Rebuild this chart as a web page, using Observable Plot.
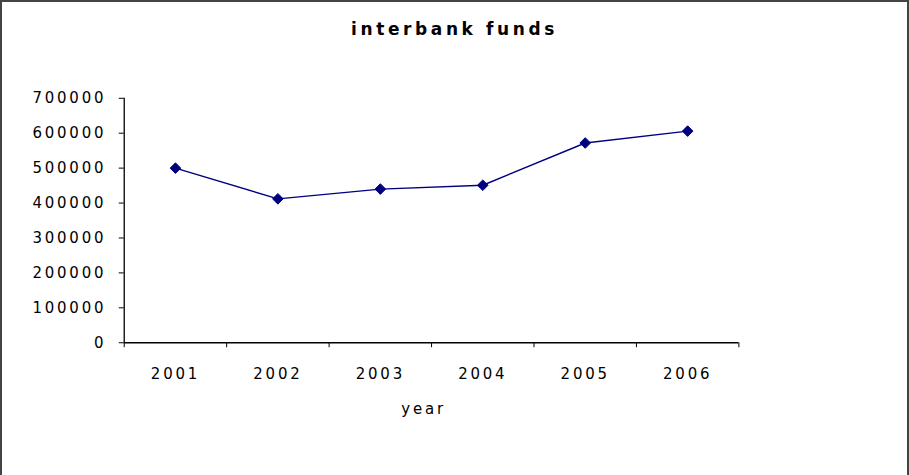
<!DOCTYPE html>
<html>
<head>
<meta charset="utf-8">
<script src="https://cdn.jsdelivr.net/npm/d3@7"></script>
<script src="https://cdn.jsdelivr.net/npm/@observablehq/plot@0.6"></script>
<style>
  html, body { margin: 0; padding: 0; background: #fff; }
  #chart { position: relative; width: 909px; height: 475px; box-sizing: border-box;
           border-top: 2px solid #444; border-left: 2px solid #444; border-right: 2px solid #444; }
  #title { position: absolute; left: 0; width: 905px; top: 17px; text-align: center;
           font-family: "DejaVu Sans", sans-serif; font-weight: bold; font-size: 17px;
           letter-spacing: 3.6px; color: #000; }
  #plot { position: absolute; left: -2px; top: -2px; }
  #plot svg text { letter-spacing: 2.8px; }
</style>
</head>
<body>
<div id="chart">
  <div id="title">interbank funds</div>
  <div id="plot"></div>
</div>
<script>
const years = [2001, 2002, 2003, 2004, 2005, 2006];
const funds = [500000, 412000, 440000, 451000, 572000, 606000];
const yTicks = [0, 100000, 200000, 300000, 400000, 500000, 600000, 700000];
const xBoundaries = [2000.5, 2001.5, 2002.5, 2003.5, 2004.5, 2005.5, 2006.5];
const xLabel = "year";

const data = years.map((y, i) => ({year: y, value: funds[i]}));
const navy = "#000080";

const chart = Plot.plot({
  width: 909,
  height: 475,
  marginLeft: 124,
  marginRight: 169,
  marginTop: 98,
  marginBottom: 132,
  style: {fontFamily: "'DejaVu Sans', sans-serif", fontSize: "15px", color: "#000", background: "transparent"},
  x: {type: "linear", domain: [2000.5, 2006.5]},
  y: {type: "linear", domain: [0, 700000]},
  marks: [
    Plot.axisY({ticks: yTicks, tickSize: 5, tickPadding: 13, tickFormat: d3.format("d"), label: null, stroke: "#000"}),
    Plot.axisX({ticks: xBoundaries, tickSize: 5, tickFormat: () => "", label: null, stroke: "#000"}),
    Plot.axisX({ticks: years, tickSize: 0, tickPadding: 26, tickFormat: d3.format("d"), label: null}),
    Plot.ruleY([0], {x1: 2000.5, x2: 2006.5, stroke: "#000", strokeWidth: 1.3}),
    Plot.ruleX([2000.5], {y1: 0, y2: 700000, stroke: "#000", strokeWidth: 1.3}),
    Plot.line(data, {x: "year", y: "value", stroke: navy, strokeWidth: 1.4}),
    Plot.dot(data, {x: "year", y: "value", symbol: "diamond2", r: 4.8, fill: navy, stroke: navy, strokeWidth: 1}),
    Plot.text([xLabel], {text: d => d, frameAnchor: "bottom", dy: 71, dx: -8, fontSize: 15})
  ]
});
document.getElementById("plot").appendChild(chart);
</script>
</body>
</html>
